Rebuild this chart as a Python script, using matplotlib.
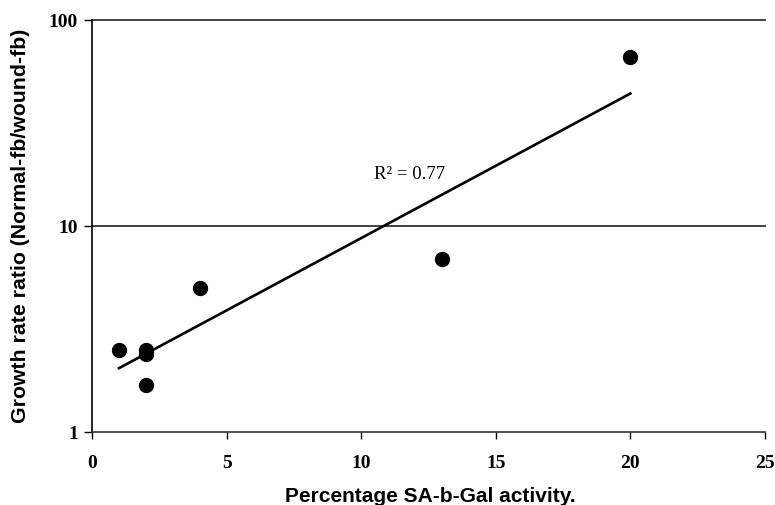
import numpy as np
import matplotlib.pyplot as plt

# values
sa_gal_pct = [1, 2, 2, 2, 4, 13, 20]
growth_ratio = [2.5, 2.5, 2.4, 1.7, 5.0, 6.9, 66]
x_ticks = [0, 5, 10, 15, 20, 25]
y_ticks = [1, 10, 100]
r2_label = "R\u00b2 = 0.77"

# exponential trend line (linear fit on log10 y)
slope, icpt = np.polyfit(sa_gal_pct, np.log10(growth_ratio), 1)
fit_x = np.array([min(sa_gal_pct), max(sa_gal_pct)])
fit_y = 10 ** (icpt + slope * fit_x)

fig = plt.figure(figsize=(7.75, 5.06), dpi=100)
ax = fig.add_axes([0.1187, 0.1443, 0.8684, 0.8142])

ax.set_yscale('log')
ax.set_xlim(0, 25)
ax.set_ylim(1, 100)

for yv in [10, 100]:
    ax.axhline(yv, color='#333333', lw=1.3, zorder=1, clip_on=False)

ax.plot(fit_x, fit_y, color='black', lw=1.9, zorder=2)
ax.plot(sa_gal_pct, growth_ratio, 'o', color='black', ms=10, zorder=3)

ax.text(11.8, 17.9, r2_label, fontsize=13.5, family='Liberation Serif',
        ha='center', va='center')

ax.set_xticks(x_ticks)
ax.set_xticklabels([str(v) for v in x_ticks])
ax.set_yticks(y_ticks)
ax.set_yticklabels([str(v) for v in y_ticks])
ax.yaxis.set_minor_locator(plt.NullLocator())
for lab in ax.get_xticklabels() + ax.get_yticklabels():
    lab.set_family('Liberation Serif')
    lab.set_fontweight('bold')
    lab.set_fontsize(14)
ax.tick_params(axis='x', direction='out', length=5, width=1, pad=11)
ax.tick_params(axis='y', direction='out', length=6, width=1, pad=4)

for side in ['top', 'right']:
    ax.spines[side].set_visible(False)
ax.spines['left'].set_linewidth(1.2)
ax.spines['bottom'].set_linewidth(1.2)
ax.spines['bottom'].set_color('#333333')

ax.set_xlabel('Percentage SA-b-Gal activity.', family='Liberation Sans',
              fontweight='bold', fontsize=15)
ax.set_ylabel('Growth rate ratio (Normal-fb/wound-fb)', family='Liberation Sans',
              fontweight='bold', fontsize=15.3)
ax.xaxis.set_label_coords(0.502, -0.13)
ax.yaxis.set_label_coords(-0.092, 0.502)

fig.savefig('out.png', dpi=100)
